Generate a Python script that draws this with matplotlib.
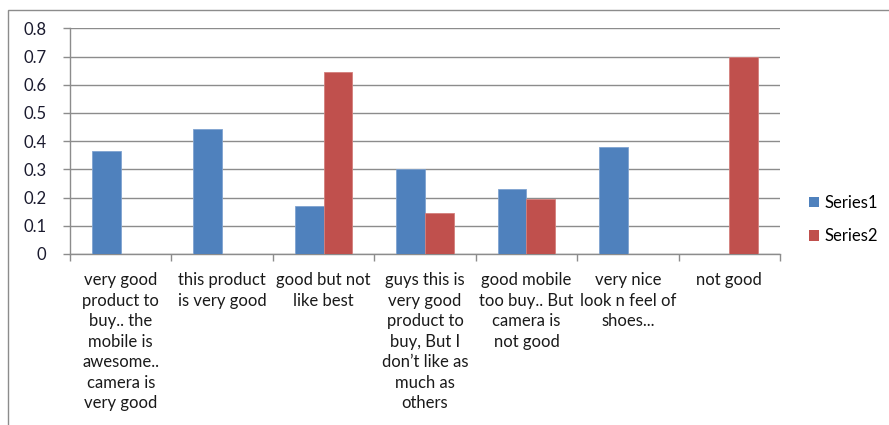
import matplotlib
matplotlib.use("Agg")
import matplotlib.pyplot as plt
import numpy as np
from matplotlib.patches import Rectangle, Patch

categories = [
    "very good\nproduct to\nbuy.. the\nmobile is\nawesome..\ncamera is\nvery good",
    "this product\nis very good",
    "good but not\nlike best",
    "guys this is\nvery good\nproduct to\nbuy, But I\ndon\u2019t like as\nmuch as\nothers",
    "good mobile\ntoo buy.. But\ncamera is\nnot good",
    "very nice\nlook n feel of\nshoes...",
    "not good",
]
series1 = [0.364, 0.444, 0.171, 0.300, 0.232, 0.378, 0.0]
series2 = [0.0, 0.0, 0.645, 0.146, 0.194, 0.0, 0.700]
series_names = ["Series1", "Series2"]
yticks = [0, 0.1, 0.2, 0.3, 0.4, 0.5, 0.6, 0.7, 0.8]

plt.rcParams['font.family'] = ['Lato', 'DejaVu Sans']

fig = plt.figure(figsize=(8.89, 4.25), dpi=100)
# outer chart border
fig.patches.append(Rectangle((8/889, -0.05), 1.05, 1 - 10/425 + 0.05,
                             transform=fig.transFigure, fill=False,
                             edgecolor='#8c8c8c', linewidth=1.0))

ax = fig.add_axes([70/889, 1 - 254/425, (780 - 70)/889, (254 - 28.3)/425])

x = np.arange(len(categories))
w = 0.283
ax.bar(x - w/2, series1, width=w, color='#4F81BD', edgecolor='#7FA3D0', linewidth=0.6, label=series_names[0], zorder=3)
ax.bar(x + w/2, series2, width=w, color='#C0504D', edgecolor='#D47F7C', linewidth=0.6, label=series_names[1], zorder=3)

ax.set_xlim(-0.5, len(categories) - 0.5)
ax.set_ylim(0, 0.8)
ax.set_yticks(yticks)
ax.set_yticklabels([("0" if v == 0 else f"{v:.1f}") for v in yticks])
ax.yaxis.grid(True, color='#8c8c8c', linewidth=1.0, zorder=0)
ax.set_axisbelow(True)

for s in ['top', 'right']:
    ax.spines[s].set_visible(False)
for s in ['left', 'bottom']:
    ax.spines[s].set_color('#8c8c8c')
    ax.spines[s].set_linewidth(1.0)

ax.tick_params(axis='y', length=5, width=1, color='#8c8c8c', pad=12, labelsize=12, labelcolor='#1a1a2e')

ax.set_xticks(x)
ax.set_xticklabels(categories, fontsize=12, color='#1a1a1a', linespacing=1.35, va='top')
ax.tick_params(axis='x', which='major', length=0, pad=13)
ax.set_xticks(np.arange(-0.5, len(categories)), minor=True)
ax.tick_params(axis='x', which='minor', length=5, width=1, color='#8c8c8c')

handles = [Patch(facecolor='#4F81BD'), Patch(facecolor='#C0504D')]
fig.legend(handles, series_names, loc='upper left', bbox_to_anchor=(809/889, 1 - 195/425),
           frameon=False, fontsize=12, handlelength=0.6, handleheight=0.6,
           handletextpad=0.35, labelspacing=1.05, borderaxespad=0, borderpad=0)

fig.savefig("out.png", dpi=100)
